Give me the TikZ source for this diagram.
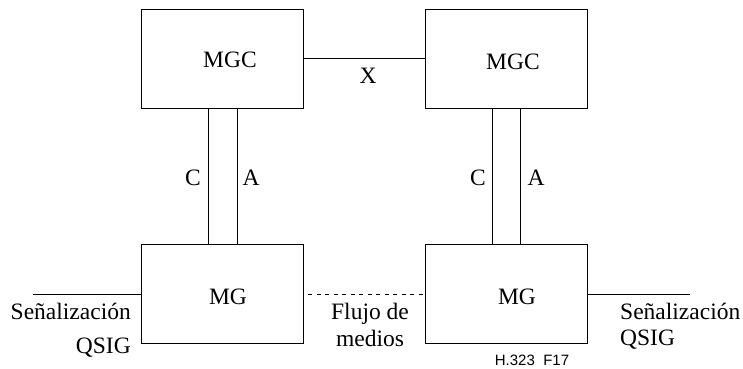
\documentclass[tikz,border=0pt]{standalone}
\usepackage{fontspec}
\setmainfont{Liberation Serif}
\newfontfamily\labsans{Liberation Sans}
\begin{document}
\begin{tikzpicture}[x=1pt,y=-1pt,
  box/.style={draw,line width=0.9pt,minimum width=162pt,minimum height=99pt,inner sep=0pt},
  lbl/.style={inner sep=0pt,font=\fontsize{23.5}{27}\selectfont},
  ln/.style={line width=0.9pt}]
\useasboundingbox (0,0) rectangle (743,368);
\node[box] (mgc1) at (222,58.5) {};
\node[box] (mgc2) at (506.5,58.5) {};
\node[box] (mg1) at (222,294) {};
\node[box] (mg2) at (506.5,294) {};
\node[lbl] (t1) at (230,60) {MGC};
\node[lbl] (t2) at (513,62) {MGC};
\node[lbl] (t3) at (228,297) {MG};
\node[lbl] (t4) at (517,297) {MG};
\draw[ln] (mgc1.east) -- (mgc2.west);
\node[lbl] (x) at (368,76) {X};
\draw[ln] ([xshift=-13.3pt]mgc1.south) -- ([xshift=-13.3pt]mg1.north);
\draw[ln] ([xshift=15.5pt]mgc1.south) -- ([xshift=15.5pt]mg1.north);
\draw[ln] ([xshift=-14.2pt]mgc2.south) -- ([xshift=-14.2pt]mg2.north);
\draw[ln] ([xshift=14.2pt]mgc2.south) -- ([xshift=14.2pt]mg2.north);
\node[lbl] (c1) at (193,178) {C};
\node[lbl] (a1) at (251,178) {A};
\node[lbl] (c2) at (478,178) {C};
\node[lbl] (a2) at (536,178) {A};
\coordinate (sl) at (33,294);
\coordinate (sr) at (690,294);
\draw[ln] (sl) -- (mg1.west);
\draw[ln] (mg2.east) -- (sr);
\draw[ln,dash pattern=on 4pt off 4.5pt,dash phase=-5pt] (mg1.east) -- (mg2.west);
\node[lbl,anchor=base east] (s1) at (131,319) {Señalización};
\node[lbl,anchor=base east] (q1) at (131,353) {QSIG};
\node[lbl,anchor=base west] (s2) at (620,319) {Señalización};
\node[lbl,anchor=base west] (q2) at (620,345) {QSIG};
\node[lbl,anchor=base] (f1) at (370,319) {Flujo de};
\node[lbl,anchor=base] (f2) at (370,346) {medios};
\node[inner sep=0pt,anchor=base,font=\labsans\fontsize{15}{18}\selectfont] (h) at (532,365.5) {H.323\ \ F17};
\end{tikzpicture}
\end{document}
